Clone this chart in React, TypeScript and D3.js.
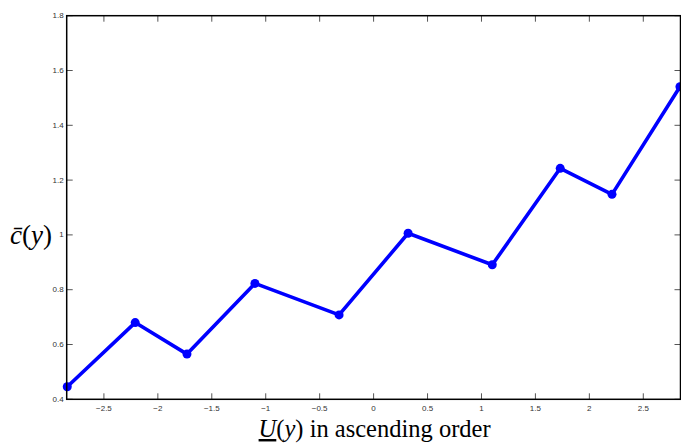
import * as d3 from "d3";
import React from "react";

// quantile positions (ascending order) and the averaged values
const uValues = [-2.84, -2.21, -1.73, -1.1, -0.32, 0.32, 1.1, 1.73, 2.21, 2.84];
const cValues = [0.446, 0.68, 0.565, 0.823, 0.708, 1.006, 0.891, 1.243, 1.148, 1.541];
const xTicks = [-2.5, -2, -1.5, -1, -0.5, 0, 0.5, 1, 1.5, 2, 2.5];
const yTicks = [0.4, 0.6, 0.8, 1, 1.2, 1.4, 1.6, 1.8];

const W = 681;
const H = 445;
const margin = { left: 66.7, right: 0.5, top: 15.7, bottom: 45.7 };

const fmt = (v: number) => {
  const s = String(Math.abs(v));
  return v < 0 ? "\u2212" + s : s;
};

const App = () => {
  const x = d3
    .scaleLinear()
    .domain([-2.845, 2.845])
    .range([margin.left, W - margin.right]);
  const y = d3
    .scaleLinear()
    .domain([0.4, 1.8])
    .range([H - margin.bottom, margin.top]);

  const pts = uValues.map((u, i) => [u, cValues[i]] as [number, number]);
  const line = d3
    .line<[number, number]>()
    .x((d) => x(d[0]))
    .y((d) => y(d[1]));

  const x0 = x.range()[0];
  const x1 = x.range()[1];
  const y0 = y.range()[0];
  const y1 = y.range()[1];
  const tickLen = 6;
  const tickFont = "'Liberation Sans', Arial, sans-serif";

  return (
    <svg
      width={W}
      height={H}
      style={{ position: "absolute", left: 0, top: 0, background: "#fff" }}
    >
      {/* ticks on all four sides, pointing inward */}
      <g stroke="#555" strokeWidth={1}>
        {xTicks.map((t) => (
          <g key={"xt" + t}>
            <line x1={x(t)} x2={x(t)} y1={y0} y2={y0 - tickLen} />
            <line x1={x(t)} x2={x(t)} y1={y1} y2={y1 + tickLen} />
          </g>
        ))}
        {yTicks.map((t) => (
          <g key={"yt" + t}>
            <line x1={x0} x2={x0 + tickLen} y1={y(t)} y2={y(t)} />
            <line x1={x1} x2={x1 - tickLen} y1={y(t)} y2={y(t)} />
          </g>
        ))}
      </g>

      <path
        d={line(pts) || undefined}
        fill="none"
        stroke="#0000ff"
        strokeWidth={3.6}
        strokeLinejoin="round"
      />
      {pts.map((p, i) => (
        <circle key={i} cx={x(p[0])} cy={y(p[1])} r={4.5} fill="#0000ff" />
      ))}

      {/* box */}
      <rect
        x={x0}
        y={y1}
        width={x1 - x0}
        height={y0 - y1}
        fill="none"
        stroke="#000"
        strokeWidth={1.5}
      />

      <g fontFamily={tickFont} fontSize={8} fill="#333">
        {xTicks.map((t) => (
          <text key={"xl" + t} x={x(t)} y={y0 + 12} textAnchor="middle">
            {fmt(t)}
          </text>
        ))}
        {yTicks.map((t) => (
          <text
            key={"yl" + t}
            x={x0 - 3}
            y={y(t)}
            textAnchor="end"
            dominantBaseline="central"
          >
            {String(t)}
          </text>
        ))}
      </g>

      <text
        x={(x0 + x1) / 2 + 1}
        y={437}
        textAnchor="middle"
        fontFamily="'Liberation Serif', 'Times New Roman', serif"
        fontSize={24.5}
        fill="#000"
      >
        <tspan fontStyle="italic" textDecoration="underline">U</tspan>
        <tspan>(</tspan>
        <tspan fontStyle="italic">y</tspan>
        <tspan>) in ascending order</tspan>
      </text>

      <text
        x={10}
        y={244}
        fontFamily="'Liberation Serif', 'Times New Roman', serif"
        fontSize={27}
        fill="#000"
      >
        <tspan fontStyle="italic">{"c\u0304"}</tspan>
        <tspan>(</tspan>
        <tspan fontStyle="italic">y</tspan>
        <tspan>)</tspan>
      </text>
    </svg>
  );
};

export default App;
